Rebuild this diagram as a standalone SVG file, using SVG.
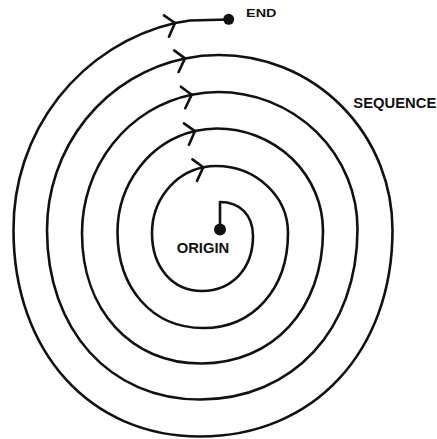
<svg xmlns="http://www.w3.org/2000/svg" width="437" height="439" viewBox="0 0 437 439">
<style>
.ln{fill:none;stroke:#111;stroke-width:2.6;stroke-linecap:round;stroke-linejoin:round}
.dot{fill:#111}
.lbl{font-family:"Liberation Sans",Arial,sans-serif;font-weight:bold;fill:#111}
</style>
<defs>
<marker id="chev" viewBox="-14 -12 16 26" refX="0" refY="0" markerWidth="16" markerHeight="26" markerUnits="userSpaceOnUse" orient="auto" overflow="visible">
<path d="M-9,-10 L0,0 L-9,12" fill="none" stroke="#111" stroke-width="2.6" stroke-linecap="round" stroke-linejoin="round"/>
</marker>
</defs>
<rect width="437" height="439" fill="#fff"/>
<g id="connectors">
<path class="ln" marker-end="url(#chev)" d="M220,229.5 L220,202 C240,202 253,215 253,236 C253,268.45 232.09,291 202,291 C172.5,291 152,267.22 152,233 A64,67 0 0 1 203.3,167.3"/>
<path class="ln" marker-end="url(#chev)" d="M203.3,167.3 A64,67 0 0 1 216,166 A72,67 0 0 1 288,233 C288,289.05 253.15,328 203,328 C152.55,328 117.5,288.64 117.5,232 A99.5,103.5 0 0 1 195,131.1"/>
<path class="ln" marker-end="url(#chev)" d="M195,131.1 A99.5,103.5 0 0 1 217,128.5 A106,102.5 0 0 1 323,231 C323,309.18 272.98,363.5 201,363.5 C130.79,363.5 82,310 82,233 A136,141 0 0 1 191.7,94.7"/>
<path class="ln" marker-end="url(#chev)" d="M191.7,94.7 A136,141 0 0 1 218,92 A139.5,137 0 0 1 357.5,229 C357.5,329.6 292.93,399.5 200,399.5 C109.73,399.5 47,330 47,230 A172,175 0 0 1 185,58.4"/>
<path class="ln" marker-end="url(#chev)" d="M185,58.4 A172,175 0 0 1 219,55 A173.5,175 0 0 1 392.5,230 C392.5,351.8 313.6,436.5 200,436.5 C90,436.5 13.5,351.8 13.5,230 A208.5,211 0 0 1 175,23"/>
<path class="ln" d="M175,23 L190,20.5 L228.5,19.5"/>
</g>
<g id="origin">
<circle class="dot" cx="220" cy="229.5" r="6"/>
<text class="lbl" x="176.7" y="253.3" font-size="14" textLength="52.5" lengthAdjust="spacingAndGlyphs">ORIGIN</text>
</g>
<g id="end">
<circle class="dot" cx="228.7" cy="19.3" r="5.5"/>
<text class="lbl" x="246" y="17.4" font-size="11.5" textLength="30.5" lengthAdjust="spacingAndGlyphs">END</text>
</g>
<g id="sequence">
<text class="lbl" x="353.3" y="108.3" font-size="14.5" textLength="83" lengthAdjust="spacingAndGlyphs">SEQUENCE</text>
</g>
</svg>
